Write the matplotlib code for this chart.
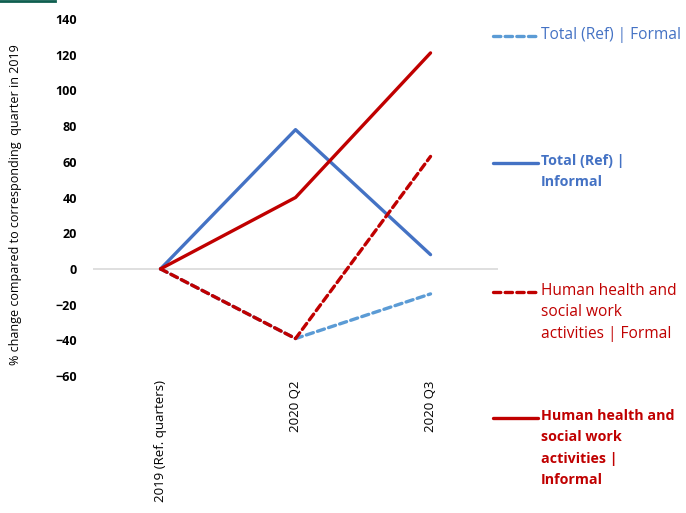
import matplotlib.pyplot as plt
from matplotlib.lines import Line2D

# data
categories = ["2019 (Ref. quarters)", "2020 Q2", "2020 Q3"]
total_formal = [0, -39, -14]
total_informal = [0, 78, 8]
health_formal = [0, -39, 63]
health_informal = [0, 40, 121]

series_labels = ["Total (Ref) | Formal",
                 "Total (Ref) |\nInformal",
                 "Human health and\nsocial work\nactivities | Formal",
                 "Human health and\nsocial work\nactivities |\nInformal"]

plt.rcParams['font.family'] = ['Open Sans', 'DejaVu Sans']

fig = plt.figure(figsize=(6.86, 5.13), dpi=100)
ax = fig.add_axes([0.1356, 0.267, 0.5904, 0.696])

x = range(len(categories))
styles = [
    (total_formal, '#5B9BD5', (0, (2.2, 1.3))),
    (total_informal, '#4472C4', '-'),
    (health_formal, '#C00000', (0, (2.2, 1.3))),
    (health_informal, '#C00000', '-'),
]
for vals, col, ls in styles:
    ax.plot(x, vals, color=col, linestyle=ls, linewidth=2.4,
            dash_capstyle='round', solid_capstyle='round')

ax.set_xlim(-0.5, len(categories) - 0.5)
ax.set_ylim(-60, 140)
ax.set_yticks(range(-60, 141, 20))
ax.axhline(0, color='#d9d9d9', linewidth=1.2, zorder=0)
for s in ax.spines.values():
    s.set_visible(False)
ax.tick_params(axis='both', length=0)
ax.tick_params(axis='y', pad=11.5)
for t in ax.get_yticklabels():
    t.set_fontweight('bold')
    t.set_fontsize(9)
ax.set_xticks(list(x))
ax.set_xticklabels(categories, rotation=90, fontsize=9.5, va='top')
ax.tick_params(axis='x', pad=3)
ax.set_ylabel("% change compared to corresponding  quarter in 2019",
              fontsize=9)
ax.yaxis.set_label_coords(-0.176, 0.479)

# small mark at top-left corner
fig.add_artist(Line2D([0, 55 / 686], [1 - 1 / 513, 1 - 1 / 513],
                      color='#0E5E4F', linewidth=2))

# legend on the right
rows = [(36, False), (163, True), (292, False), (418, True)]
for (ypix, bold), lab, (vals, col, ls) in zip(rows, series_labels, styles):
    yf = 1 - ypix / 513
    text_col = '#4472C4' if col != '#C00000' else '#C00000'
    fig.add_artist(Line2D([493 / 686, 538 / 686], [yf, yf], color=col,
                          linestyle=ls, linewidth=2.4,
                          dash_capstyle='round', solid_capstyle='round'))
    fig.text(541 / 686, yf + 9 / 513, lab, color=text_col,
             fontsize=10.3 if bold else 11.2,
             fontweight='bold' if bold else 'normal', va='top', ha='left',
             linespacing=1.68 if bold else 1.45)

fig.savefig('out.png', dpi=100)
